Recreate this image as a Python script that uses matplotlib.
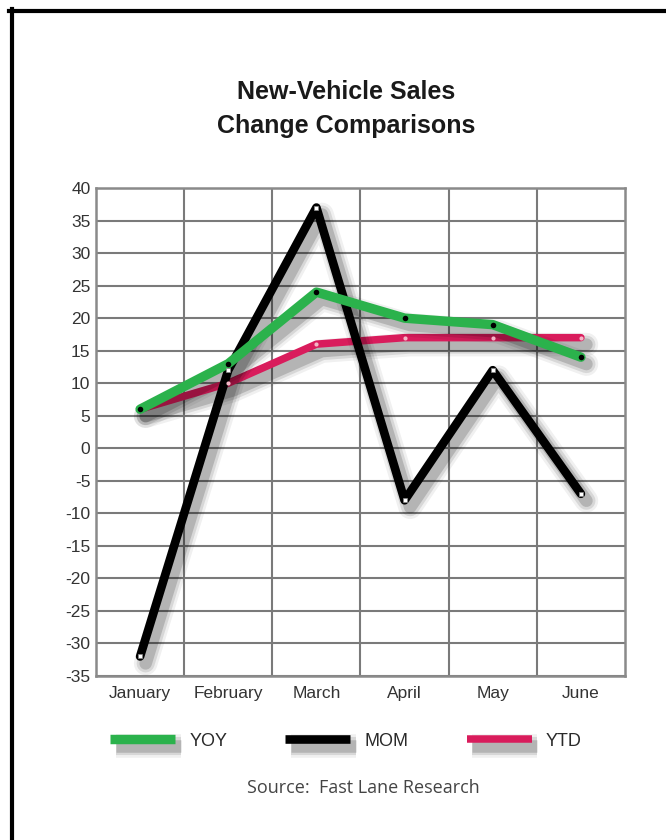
import matplotlib
matplotlib.use('Agg')
import matplotlib.pyplot as plt
import matplotlib.patheffects as pe
from matplotlib.lines import Line2D

plt.rcParams['font.family'] = ['Liberation Sans', 'DejaVu Sans']

months = ['January', 'February', 'March', 'April', 'May', 'June']
yoy = [6, 13, 24, 20, 19, 14]
mom = [-32, 12, 37, -8, 12, -7]
ytd = [6, 10, 16, 17, 17, 17]
yticks = list(range(-35, 45, 5))

green = '#2bb24c'
red = '#d91c5c'
W, H = 666, 840


def shadow(off=(4, -5)):
    # fake blur: a few widening, fading shadow strokes
    return [pe.SimpleLineShadow(offset=off, shadow_color='k', alpha=0.06, linewidth=17),
            pe.SimpleLineShadow(offset=off, shadow_color='k', alpha=0.10, linewidth=13),
            pe.SimpleLineShadow(offset=off, shadow_color='k', alpha=0.16, linewidth=9),
            pe.Normal()]


fig = plt.figure(figsize=(W / 100, H / 100), dpi=100)
fig.patch.set_facecolor('white')
ax = fig.add_axes([96 / W, 1 - 676 / H, 529 / W, 488 / H])

x = list(range(len(months)))
ax.plot(x, ytd, color=red, lw=5.4, solid_capstyle='round', solid_joinstyle='round',
        label='YTD', path_effects=shadow(), zorder=3)
ax.plot(x, mom, color='black', lw=6.2, solid_capstyle='round', solid_joinstyle='round',
        label='MOM', path_effects=shadow(), zorder=4)
ax.plot(x, yoy, color=green, lw=6.8, solid_capstyle='round', solid_joinstyle='round',
        label='YOY', path_effects=shadow(), zorder=5)

ax.plot(x, ytd, ls='none', marker='o', ms=3, mfc='#f4b6c6', mec='none', zorder=6)
ax.plot(x, mom, ls='none', marker='s', ms=3.2, mfc='white', mec='#888888', mew=0.5, zorder=6)
ax.plot(x, yoy, ls='none', marker='o', ms=4, mfc='black', mec='none', zorder=6)

ax.set_xlim(-0.5, 5.5)
ax.set_ylim(-35, 40)
ax.set_yticks(yticks)
ax.set_yticklabels([str(v) for v in yticks])
ax.set_xticks(x)
ax.set_xticklabels(months)
ax.set_xticks([i + 0.5 for i in x[:-1]], minor=True)
ax.tick_params(axis='both', which='both', length=0, labelsize=12.5, colors='#333333')
ax.tick_params(axis='y', pad=4)
ax.tick_params(axis='x', pad=7)
ax.grid(True, axis='y', which='major', color='#7a7a7a', lw=1.5)
ax.grid(True, axis='x', which='minor', color='#7a7a7a', lw=1.5)
ax.grid(False, axis='x', which='major')
ax.set_axisbelow(True)
for s in ax.spines.values():
    s.set_color('#8a8a8a')
    s.set_linewidth(1.8)

fig.text(346 / W, 1 - 92 / H, 'New-Vehicle Sales', ha='center', va='center',
         fontsize=18, fontweight='bold', color='#1a1a1a')
fig.text(346 / W, 1 - 126 / H, 'Change Comparisons', ha='center', va='center',
         fontsize=18, fontweight='bold', color='#1a1a1a')

h, l = ax.get_legend_handles_labels()
order = [2, 1, 0]
leg = ax.legend([h[i] for i in order], [l[i] for i in order], ncol=3, frameon=False,
                loc='center', bbox_to_anchor=(0.5 * (108 + 584) / W, 1 - 741 / H),
                bbox_transform=fig.transFigure, fontsize=13, handlelength=3.6,
                handletextpad=0.8, columnspacing=3.2)
for t in leg.get_texts():
    t.set_color('#2a2a2a')
for hd in leg.legend_handles:
    hd.set_solid_capstyle('butt')

fig.text(363 / W, 1 - 788 / H, 'Source:  Fast Lane Research', ha='center', va='center',
         fontsize=13, color='#444444', family=['Open Sans', 'DejaVu Sans'])

# black frame on top and left edges
fig.add_artist(Line2D([9 / W, 1], [1 - 11 / H, 1 - 11 / H], color='black', lw=3,
                      transform=fig.transFigure))
fig.add_artist(Line2D([12 / W, 12 / W], [0, 1 - 9 / H], color='black', lw=3,
                      transform=fig.transFigure))

fig.savefig('out.png', dpi=100)
